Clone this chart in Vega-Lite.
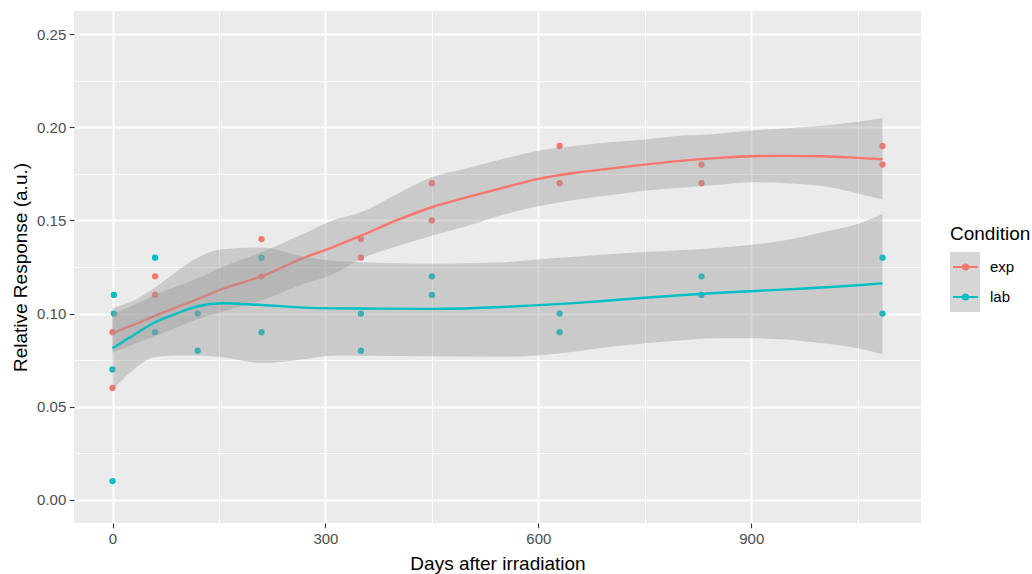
{
  "$schema": "https://vega.github.io/schema/vega-lite/v6.json",
  "width": 847,
  "height": 512,
  "autosize": {"type": "none"},
  "padding": {"left": 74, "top": 11, "right": 111, "bottom": 51},
  "background": "white",
  "config": {
    "view": {"fill": "#EBEBEB", "stroke": null},
    "font": "Liberation Sans",
    "axis": {
      "labelFont": "Liberation Sans", "labelFontSize": 15, "labelColor": "#4D4D4D",
      "titleFont": "Liberation Sans", "titleFontSize": 19, "titleFontWeight": "normal", "titleColor": "#000000",
      "tickColor": "#333333", "tickSize": 4.75, "tickWidth": 1.1, "domain": false,
      "gridColor": "#FFFFFF", "gridWidth": 2, "labelPadding": 3.5
    }
  },
  "datasets": {
    "pts": [
      {"Day": 0, "Response": 0.09, "Condition": "exp"},
      {"Day": 0, "Response": 0.06, "Condition": "exp"},
      {"Day": 60, "Response": 0.12, "Condition": "exp"},
      {"Day": 60, "Response": 0.11, "Condition": "exp"},
      {"Day": 210, "Response": 0.14, "Condition": "exp"},
      {"Day": 210, "Response": 0.12, "Condition": "exp"},
      {"Day": 350, "Response": 0.14, "Condition": "exp"},
      {"Day": 350, "Response": 0.13, "Condition": "exp"},
      {"Day": 450, "Response": 0.17, "Condition": "exp"},
      {"Day": 450, "Response": 0.15, "Condition": "exp"},
      {"Day": 630, "Response": 0.19, "Condition": "exp"},
      {"Day": 630, "Response": 0.17, "Condition": "exp"},
      {"Day": 830, "Response": 0.18, "Condition": "exp"},
      {"Day": 830, "Response": 0.17, "Condition": "exp"},
      {"Day": 1085, "Response": 0.19, "Condition": "exp"},
      {"Day": 1085, "Response": 0.18, "Condition": "exp"},
      {"Day": 2, "Response": 0.11, "Condition": "lab"},
      {"Day": 2, "Response": 0.10, "Condition": "lab"},
      {"Day": 0, "Response": 0.07, "Condition": "lab"},
      {"Day": 0, "Response": 0.01, "Condition": "lab"},
      {"Day": 60, "Response": 0.13, "Condition": "lab"},
      {"Day": 60, "Response": 0.09, "Condition": "lab"},
      {"Day": 120, "Response": 0.10, "Condition": "lab"},
      {"Day": 120, "Response": 0.08, "Condition": "lab"},
      {"Day": 210, "Response": 0.13, "Condition": "lab"},
      {"Day": 210, "Response": 0.09, "Condition": "lab"},
      {"Day": 350, "Response": 0.10, "Condition": "lab"},
      {"Day": 350, "Response": 0.08, "Condition": "lab"},
      {"Day": 450, "Response": 0.12, "Condition": "lab"},
      {"Day": 450, "Response": 0.11, "Condition": "lab"},
      {"Day": 630, "Response": 0.10, "Condition": "lab"},
      {"Day": 630, "Response": 0.09, "Condition": "lab"},
      {"Day": 830, "Response": 0.12, "Condition": "lab"},
      {"Day": 830, "Response": 0.11, "Condition": "lab"},
      {"Day": 1085, "Response": 0.13, "Condition": "lab"},
      {"Day": 1085, "Response": 0.10, "Condition": "lab"}
    ],
    "sm": [
      {"Condition": "exp", "Day": 0, "fit": 0.0895, "lo": 0.079, "hi": 0.100},
      {"Condition": "exp", "Day": 30, "fit": 0.0940, "lo": 0.0835, "hi": 0.1045},
      {"Condition": "exp", "Day": 60, "fit": 0.0988, "lo": 0.088, "hi": 0.110},
      {"Condition": "exp", "Day": 90, "fit": 0.1033, "lo": 0.0925, "hi": 0.1145},
      {"Condition": "exp", "Day": 120, "fit": 0.1078, "lo": 0.097, "hi": 0.119},
      {"Condition": "exp", "Day": 155, "fit": 0.1132, "lo": 0.101, "hi": 0.125},
      {"Condition": "exp", "Day": 210, "fit": 0.1200, "lo": 0.107, "hi": 0.133},
      {"Condition": "exp", "Day": 270, "fit": 0.1300, "lo": 0.116, "hi": 0.143},
      {"Condition": "exp", "Day": 310, "fit": 0.1356, "lo": 0.121, "hi": 0.150},
      {"Condition": "exp", "Day": 350, "fit": 0.1418, "lo": 0.1293, "hi": 0.1544},
      {"Condition": "exp", "Day": 400, "fit": 0.1500, "lo": 0.136, "hi": 0.164},
      {"Condition": "exp", "Day": 450, "fit": 0.1571, "lo": 0.1418, "hi": 0.1732},
      {"Condition": "exp", "Day": 500, "fit": 0.1625, "lo": 0.147, "hi": 0.178},
      {"Condition": "exp", "Day": 550, "fit": 0.1675, "lo": 0.153, "hi": 0.183},
      {"Condition": "exp", "Day": 600, "fit": 0.1723, "lo": 0.1576, "hi": 0.1875},
      {"Condition": "exp", "Day": 650, "fit": 0.1755, "lo": 0.161, "hi": 0.190},
      {"Condition": "exp", "Day": 700, "fit": 0.1778, "lo": 0.1635, "hi": 0.192},
      {"Condition": "exp", "Day": 750, "fit": 0.1800, "lo": 0.166, "hi": 0.1935},
      {"Condition": "exp", "Day": 800, "fit": 0.1820, "lo": 0.1675, "hi": 0.1955},
      {"Condition": "exp", "Day": 850, "fit": 0.1835, "lo": 0.169, "hi": 0.1965},
      {"Condition": "exp", "Day": 900, "fit": 0.1845, "lo": 0.1705, "hi": 0.1983},
      {"Condition": "exp", "Day": 950, "fit": 0.1847, "lo": 0.170, "hi": 0.1995},
      {"Condition": "exp", "Day": 1000, "fit": 0.1845, "lo": 0.1685, "hi": 0.2008},
      {"Condition": "exp", "Day": 1050, "fit": 0.1836, "lo": 0.1645, "hi": 0.2030},
      {"Condition": "exp", "Day": 1085, "fit": 0.1829, "lo": 0.1612, "hi": 0.2050},
      {"Condition": "lab", "Day": 0, "fit": 0.0813, "lo": 0.059, "hi": 0.103},
      {"Condition": "lab", "Day": 30, "fit": 0.0885, "lo": 0.070, "hi": 0.107},
      {"Condition": "lab", "Day": 60, "fit": 0.0953, "lo": 0.0766, "hi": 0.114},
      {"Condition": "lab", "Day": 90, "fit": 0.1000, "lo": 0.0775, "hi": 0.1225},
      {"Condition": "lab", "Day": 120, "fit": 0.1039, "lo": 0.0775, "hi": 0.130},
      {"Condition": "lab", "Day": 155, "fit": 0.1055, "lo": 0.0765, "hi": 0.1345},
      {"Condition": "lab", "Day": 210, "fit": 0.1046, "lo": 0.0734, "hi": 0.1355},
      {"Condition": "lab", "Day": 270, "fit": 0.1032, "lo": 0.0755, "hi": 0.1305},
      {"Condition": "lab", "Day": 310, "fit": 0.1028, "lo": 0.0773, "hi": 0.1283},
      {"Condition": "lab", "Day": 350, "fit": 0.1027, "lo": 0.0773, "hi": 0.1275},
      {"Condition": "lab", "Day": 450, "fit": 0.1025, "lo": 0.0770, "hi": 0.1268},
      {"Condition": "lab", "Day": 550, "fit": 0.1035, "lo": 0.0768, "hi": 0.1275},
      {"Condition": "lab", "Day": 600, "fit": 0.1045, "lo": 0.0775, "hi": 0.1290},
      {"Condition": "lab", "Day": 650, "fit": 0.1056, "lo": 0.0795, "hi": 0.1305},
      {"Condition": "lab", "Day": 700, "fit": 0.1070, "lo": 0.0820, "hi": 0.1318},
      {"Condition": "lab", "Day": 750, "fit": 0.1085, "lo": 0.0840, "hi": 0.1330},
      {"Condition": "lab", "Day": 800, "fit": 0.1098, "lo": 0.0855, "hi": 0.1340},
      {"Condition": "lab", "Day": 850, "fit": 0.1110, "lo": 0.0867, "hi": 0.1352},
      {"Condition": "lab", "Day": 900, "fit": 0.1120, "lo": 0.0867, "hi": 0.1370},
      {"Condition": "lab", "Day": 950, "fit": 0.1130, "lo": 0.0860, "hi": 0.1395},
      {"Condition": "lab", "Day": 1000, "fit": 0.1140, "lo": 0.0840, "hi": 0.1437},
      {"Condition": "lab", "Day": 1050, "fit": 0.1152, "lo": 0.0813, "hi": 0.1481},
      {"Condition": "lab", "Day": 1085, "fit": 0.1162, "lo": 0.0782, "hi": 0.1535}
    ]
  },
  "resolve": {"axis": {"x": "independent", "y": "independent"}},
  "layer": [
    {
      "data": {"name": "pts"},
      "mark": {"type": "circle", "opacity": 1, "size": 40},
      "encoding": {
        "x": {"field": "Day", "type": "quantitative",
              "scale": {"domain": [-54.25, 1139.25], "nice": false, "zero": false},
              "axis": {"orient": "bottom", "values": [0, 300, 600, 900], "grid": true, "title": "Days after irradiation", "titlePadding": 8, "labelFlush": false}},
        "y": {"field": "Response", "type": "quantitative",
              "scale": {"domain": [-0.0125, 0.2625], "nice": false, "zero": false},
              "axis": {"orient": "left", "values": [0, 0.05, 0.1, 0.15, 0.2, 0.25], "format": ".2f", "grid": true, "title": "Relative Response (a.u.)", "titlePadding": 6}},
        "fill": {"field": "Condition", "type": "nominal",
                 "scale": {"domain": ["exp", "lab"], "range": ["#F8766D", "#00BFC4"]},
                 "legend": {"orient": "none", "legendX": 876, "legendY": 214, "padding": 0, "zindex": 2,
                            "title": "Condition", "titleFont": "Liberation Sans", "titleFontSize": 19, "titleFontWeight": "normal", "titleColor": "#000000", "titlePadding": 8,
                            "labelFont": "Liberation Sans", "labelFontSize": 15, "labelColor": "#000000", "labelOffset": 11,
                            "symbolType": "M-1,0L1,0M-0.2,0A0.2,0.2,0,1,1,0.2,0A0.2,0.2,0,1,1,-0.2,0Z",
                            "symbolSize": 625, "symbolStrokeWidth": 2, "symbolOffset": 2, "clipHeight": 30, "rowPadding": 0}}
      }
    },
    {
      "data": {"name": "sm"},
      "transform": [{"filter": "datum.Condition === 'exp'"}],
      "mark": {"type": "area", "opacity": 0.4, "interpolate": "monotone"},
      "encoding": {
        "x": {"field": "Day", "type": "quantitative", "scale": {"domain": [-54.25, 1139.25], "nice": false, "zero": false},
              "axis": {"values": [150, 450, 750, 1050], "grid": true, "gridWidth": 1, "labels": false, "ticks": false, "domain": false, "title": null}},
        "y": {"field": "lo", "type": "quantitative", "scale": {"domain": [-0.0125, 0.2625], "nice": false, "zero": false},
              "axis": {"values": [0.025, 0.075, 0.125, 0.175, 0.225], "grid": true, "gridWidth": 1, "labels": false, "ticks": false, "domain": false, "title": null}},
        "y2": {"field": "hi"},
        "color": {"field": "Condition", "type": "nominal",
                  "scale": {"range": ["#999999", "#999999"]},
                  "legend": {"orient": "none", "legendX": 876, "legendY": 241, "padding": 0, "zindex": 1,
                             "title": null,
                             "labelFont": "Liberation Sans", "labelFontSize": 15, "labelColor": "rgba(0,0,0,0)", "labelExpr": "''",
                             "symbolType": "square", "symbolSize": 900, "symbolStrokeWidth": 0, "symbolOpacity": 0.45, "clipHeight": 30, "rowPadding": 0}}
      }
    },
    {
      "data": {"name": "sm"},
      "transform": [{"filter": "datum.Condition === 'exp'"}],
      "mark": {"type": "line", "strokeWidth": 2.4, "interpolate": "monotone"},
      "encoding": {
        "x": {"field": "Day", "type": "quantitative", "scale": {"domain": [-54.25, 1139.25], "nice": false, "zero": false}, "axis": null},
        "y": {"field": "fit", "type": "quantitative", "scale": {"domain": [-0.0125, 0.2625], "nice": false, "zero": false}, "axis": null},
        "stroke": {"field": "Condition", "type": "nominal",
                   "scale": {"domain": ["exp", "lab"], "range": ["#F8766D", "#00BFC4"]},
                   "legend": {"orient": "none", "legendX": 876, "legendY": 214, "padding": 0, "zindex": 2,
                              "title": "Condition", "titleFont": "Liberation Sans", "titleFontSize": 19, "titleFontWeight": "normal", "titleColor": "#000000", "titlePadding": 8,
                              "labelFont": "Liberation Sans", "labelFontSize": 15, "labelColor": "#000000", "labelOffset": 11,
                              "symbolType": "M-1,0L1,0M-0.2,0A0.2,0.2,0,1,1,0.2,0A0.2,0.2,0,1,1,-0.2,0Z",
                              "symbolSize": 625, "symbolStrokeWidth": 2, "symbolOffset": 2, "clipHeight": 30, "rowPadding": 0}}
      }
    },
    {
      "data": {"name": "sm"},
      "transform": [{"filter": "datum.Condition === 'lab'"}],
      "mark": {"type": "area", "opacity": 0.4, "interpolate": "monotone"},
      "encoding": {
        "x": {"field": "Day", "type": "quantitative", "scale": {"domain": [-54.25, 1139.25], "nice": false, "zero": false}, "axis": null},
        "y": {"field": "lo", "type": "quantitative", "scale": {"domain": [-0.0125, 0.2625], "nice": false, "zero": false}, "axis": null},
        "y2": {"field": "hi"},
        "color": {"field": "Condition", "type": "nominal"}
      }
    },
    {
      "data": {"name": "sm"},
      "transform": [{"filter": "datum.Condition === 'lab'"}],
      "mark": {"type": "line", "strokeWidth": 2.4, "interpolate": "monotone"},
      "encoding": {
        "x": {"field": "Day", "type": "quantitative", "scale": {"domain": [-54.25, 1139.25], "nice": false, "zero": false}, "axis": null},
        "y": {"field": "fit", "type": "quantitative", "scale": {"domain": [-0.0125, 0.2625], "nice": false, "zero": false}, "axis": null},
        "stroke": {"field": "Condition", "type": "nominal"}
      }
    }
  ]
}
